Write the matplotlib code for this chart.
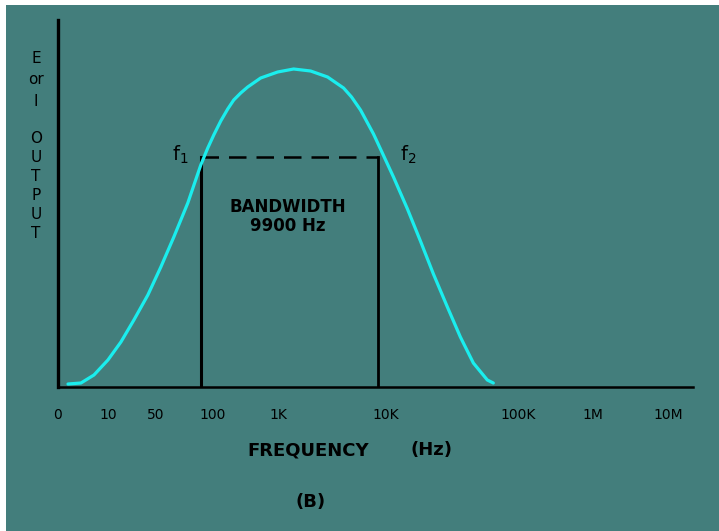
import matplotlib
matplotlib.use("Agg")
import matplotlib.pyplot as plt
from matplotlib.patches import Rectangle

# diagram units: x = position along the hand-drawn frequency axis, y = output level
tick_pos = [-1, 49, 97, 154, 220, 327, 460, 535, 610]
tick_labels = ["0", "10", "50", "100", "1K", "10K", "100K", "1M", "10M"]

curve_x = [9, 22, 35, 49, 62, 75, 89, 102, 115, 129, 142, 149, 155, 162, 169,
           175, 182, 189, 202, 219, 235, 252, 269, 285, 293, 302, 315, 322, 335,
           349, 362, 375, 389, 402, 415, 429, 435]
curve_y = [3, 4, 12, 27, 45, 67, 92, 120, 150, 184, 222, 239, 252, 266, 278,
           287, 294, 300, 309, 315, 318, 316, 310, 299, 290, 277, 253, 238, 210,
           178, 146, 113, 80, 50, 24, 7, 4]

f1_pos, f2_pos = 142, 320
half_power = 230

BG = "#437e7c"
CYAN = "#1aeeee"

fig = plt.figure(figsize=(7.19, 5.31), dpi=100, facecolor="white")
# teal panel, white strip on top and left like the scanned page
panel = Rectangle((6 / 719, 0), 1, 526 / 531, transform=fig.transFigure,
                  facecolor=BG, edgecolor="none", zorder=-10)
fig.add_artist(panel)

ax = fig.add_axes([58 / 719, (531 - 387) / 531, 635 / 719, 367 / 531])
ax.set_facecolor("none")
ax.set_xlim(0, 635)
ax.set_ylim(0, 367)

for side in ["top", "right"]:
    ax.spines[side].set_visible(False)
ax.spines["left"].set_linewidth(2.4)
ax.spines["bottom"].set_linewidth(1.8)

ax.set_yticks([])
ax.set_xticks(tick_pos)
ax.set_xticklabels(tick_labels, fontsize=10)
ax.tick_params(axis="x", length=0, pad=15)

# response curve
ax.plot(curve_x, curve_y, color=CYAN, lw=2.3, solid_capstyle="round",
        solid_joinstyle="round", zorder=3)

# bandwidth box
ax.plot([f1_pos, f1_pos], [0, half_power], color="black", lw=2.2)
ax.plot([f2_pos, f2_pos], [0, half_power], color="black", lw=2.0)
ax.plot([f1_pos, f2_pos], [half_power, half_power], color="black", lw=1.8,
        dashes=(7, 4))

ax.text(121, 232, "f$_1$", fontsize=14, ha="center", va="center")
ax.text(350, 232, "f$_2$", fontsize=14, ha="center", va="center")
ax.text(229, 180, "BANDWIDTH", fontsize=12, fontweight="bold", ha="center", va="center")
ax.text(229, 161, "9900 Hz", fontsize=12, fontweight="bold", ha="center", va="center")

# y label, stacked letters
ax.text(-23, 307, "E\nor\nI", fontsize=11, ha="center", va="center",
        linespacing=1.55, clip_on=False)
ax.text(-23, 201, "O\nU\nT\nP\nU\nT", fontsize=11, ha="center", va="center",
        linespacing=1.32, clip_on=False)

ax.text(250, -63, "FREQUENCY", fontsize=13, fontweight="bold", ha="center",
        va="center", clip_on=False)
ax.text(373, -63, "(Hz)", fontsize=13, fontweight="bold", ha="center",
        va="center", clip_on=False)
ax.text(252, -115, "(B)", fontsize=13, fontweight="bold", ha="center", va="center",
        clip_on=False)

fig.savefig("out.png", dpi=100, facecolor=fig.get_facecolor())
